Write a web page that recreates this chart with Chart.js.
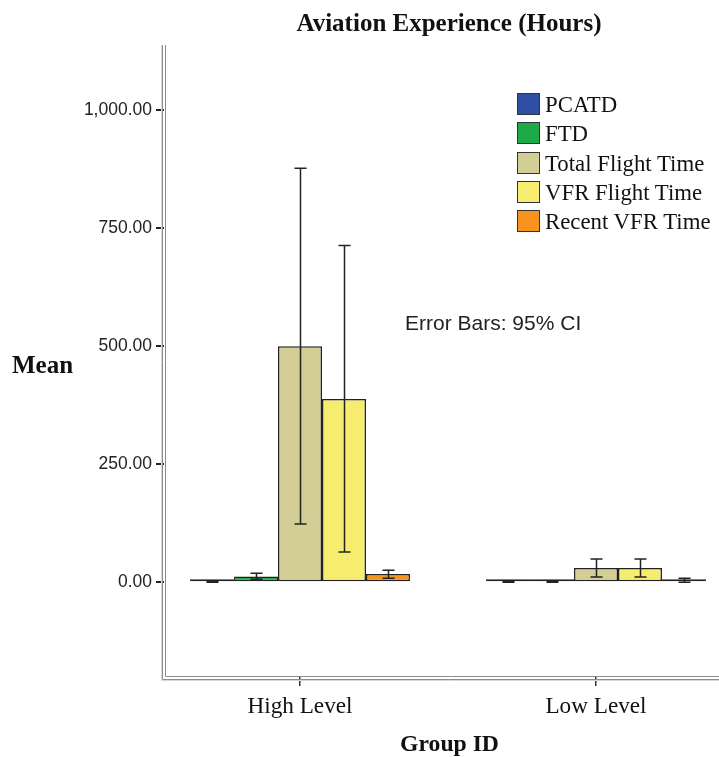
<!DOCTYPE html>
<html>
<head>
<meta charset="utf-8">
<script src="https://cdn.jsdelivr.net/npm/chart.js@4"></script>
<style>
  html, body { margin: 0; padding: 0; background: #fff; overflow: hidden; }
  #wrap { position: relative; width: 719px; height: 757px; overflow: hidden; }
  #cv { position: absolute; left: 0; top: 0; }
  .txt { position: absolute; white-space: nowrap; color: #111; }
  #title { font: bold 25px "Liberation Serif", serif; left: 449px; top: 23px; transform: translate(-50%, -50%); }
  #ytitle { font: bold 25px "Liberation Serif", serif; left: 12px; top: 365px; transform: translateY(-50%); }
  #note { font: 21px "Liberation Sans", Arial, sans-serif; left: 405px; top: 323px; transform: translateY(-50%); color: #222; }
  #legend { position: absolute; left: 517px; top: 93px; }
  .li { position: relative; height: 29.3px; }
  .sw { position: absolute; left: 0; top: 0; width: 21px; height: 20px; border: 1.5px solid #333; }
  .lt { position: absolute; left: 28px; top: 12px; transform: translateY(-50%); font: 22.8px "Liberation Serif", serif; color: #111; white-space: nowrap; }
</style>
</head>
<body>
<div id="wrap">
  <canvas id="cv" width="735" height="757" style="width:735px;height:757px"></canvas>
  <div class="txt" id="title">Aviation Experience (Hours)</div>
  <div class="txt" id="ytitle">Mean</div>
  <div class="txt" id="note">Error Bars: 95% CI</div>
  <div id="legend"></div>
</div>
<script>
// ---- data ----
const categories = ['High Level', 'Low Level'];
const seriesNames = ['PCATD', 'FTD', 'Total Flight Time', 'VFR Flight Time', 'Recent VFR Time'];
const seriesColors = ['#2E4FA3', '#1FAA48', '#D3CE96', '#F6EC70', '#F7941E'];
const pcatd  = [0.5, 0.3];
const ftd    = [12, 0.5];
const total  = [500, 30];
const vfr    = [388, 30];
const recent = [17, 3];
// 95% CI lower / upper
const pcatdLow  = [0, 0],    pcatdHigh  = [1, 0.6];
const ftdLow    = [6, 0],    ftdHigh    = [19, 1];
const totalLow  = [123, 11], totalHigh  = [877, 49];
const vfrLow    = [64, 11],  vfrHigh    = [713, 49];
const recentLow = [8, 0],    recentHigh = [25, 8];
const yTicks = [0, 250, 500, 750, 1000];

const values = [pcatd, ftd, total, vfr, recent];
const lows   = [pcatdLow, ftdLow, totalLow, vfrLow, recentLow];
const highs  = [pcatdHigh, ftdHigh, totalHigh, vfrHigh, recentHigh];

// legend
const lg = document.getElementById('legend');
seriesNames.forEach((n, i) => {
  const d = document.createElement('div'); d.className = 'li';
  d.innerHTML = '<div class="sw" style="background:' + seriesColors[i] + '"></div><div class="lt">' + n + '</div>';
  lg.appendChild(d);
});

const datasets = seriesNames.map((n, i) => ({
  label: n,
  data: values[i].map((v, j) => ({ x: j, y: v })),
  backgroundColor: seriesColors[i],
  borderColor: '#222',
  borderWidth: 1.5,
  borderSkipped: false,
  minBarLength: 3,
  categoryPercentage: 0.743,
  barPercentage: 1.0,
  errLow: lows[i],
  errHigh: highs[i]
}));

const errorBars = {
  id: 'errorBars',
  afterDatasetsDraw(chart) {
    const ctx = chart.ctx, y = chart.scales.y;
    ctx.save();
    ctx.strokeStyle = '#222';
    ctx.lineWidth = 1.5;
    chart.data.datasets.forEach((ds, di) => {
      const meta = chart.getDatasetMeta(di);
      meta.data.forEach((bar, j) => {
        const x = Math.round(bar.x) + 0.5;
        const yl = y.getPixelForValue(ds.errLow[j]);
        const yh = y.getPixelForValue(ds.errHigh[j]);
        ctx.beginPath();
        ctx.moveTo(x, yl); ctx.lineTo(x, yh);
        ctx.moveTo(x - 6, yl); ctx.lineTo(x + 6, yl);
        ctx.moveTo(x - 6, yh); ctx.lineTo(x + 6, yh);
        ctx.stroke();
      });
    });
    ctx.restore();
  }
};

const frame = {
  id: 'frame',
  afterDraw(chart) {
    const ctx = chart.ctx, a = chart.chartArea;
    ctx.save();
    ctx.strokeStyle = '#8c8c8c';
    ctx.lineWidth = 1;
    ctx.beginPath();
    ctx.moveTo(a.left - 1.5, a.top); ctx.lineTo(a.left - 1.5, a.bottom + 2.5); ctx.lineTo(a.right, a.bottom + 2.5);
    ctx.moveTo(a.left + 1.5, a.top); ctx.lineTo(a.left + 1.5, a.bottom - 0.5); ctx.lineTo(a.right, a.bottom - 0.5);
    ctx.stroke();
    ctx.strokeStyle = '#d8d8d8';
    ctx.beginPath();
    ctx.moveTo(a.left - 2.5, a.top); ctx.lineTo(a.left - 2.5, a.bottom + 3.5); ctx.lineTo(a.right, a.bottom + 3.5);
    ctx.stroke();
    ctx.restore();
  }
};

new Chart(document.getElementById('cv'), {
  type: 'bar',
  data: { datasets },
  plugins: [errorBars, frame],
  options: {
    responsive: false,
    animation: false,
    layout: { padding: { top: 45, right: 0, left: 0, bottom: 0 } },
    plugins: { legend: { display: false }, tooltip: { enabled: false }, title: { display: false } },
    scales: {
      x: {
        type: 'linear',
        min: -0.4595,
        max: 1.4696,
        offset: false,
        border: { display: false },
        grid: { offset: false, drawOnChartArea: false, drawTicks: true, tickLength: 9, color: '#333', lineWidth: 1.5 },
        afterBuildTicks(s) { s.ticks = categories.map((c, i) => ({ value: i })); },
        afterFit(s) { s.height = 80; },
        ticks: {
          autoSkip: false, maxRotation: 0, padding: 7,
          color: '#111',
          font: { family: 'Liberation Serif', size: 23.2 },
          callback: (v) => categories[v]
        },
        title: {
          display: true, text: 'Group ID', color: '#111',
          font: { family: 'Liberation Serif', size: 23.7, weight: 'bold' },
          padding: { top: 0, bottom: -2 }
        }
      },
      y: {
        min: -201,
        max: 1138,
        border: { display: false },
        grid: { drawOnChartArea: false, drawTicks: true, tickLength: 8, color: '#222', lineWidth: 2 },
        afterBuildTicks(s) { s.ticks = yTicks.map(v => ({ value: v })); },
        afterFit(s) { s.width = 164; },
        ticks: {
          padding: 4, color: '#222',
          font: { family: 'Liberation Sans', size: 17.5 },
          callback: (v) => v.toLocaleString('en-US', { minimumFractionDigits: 2, maximumFractionDigits: 2 })
        }
      }
    }
  }
});
</script>
</body>
</html>
